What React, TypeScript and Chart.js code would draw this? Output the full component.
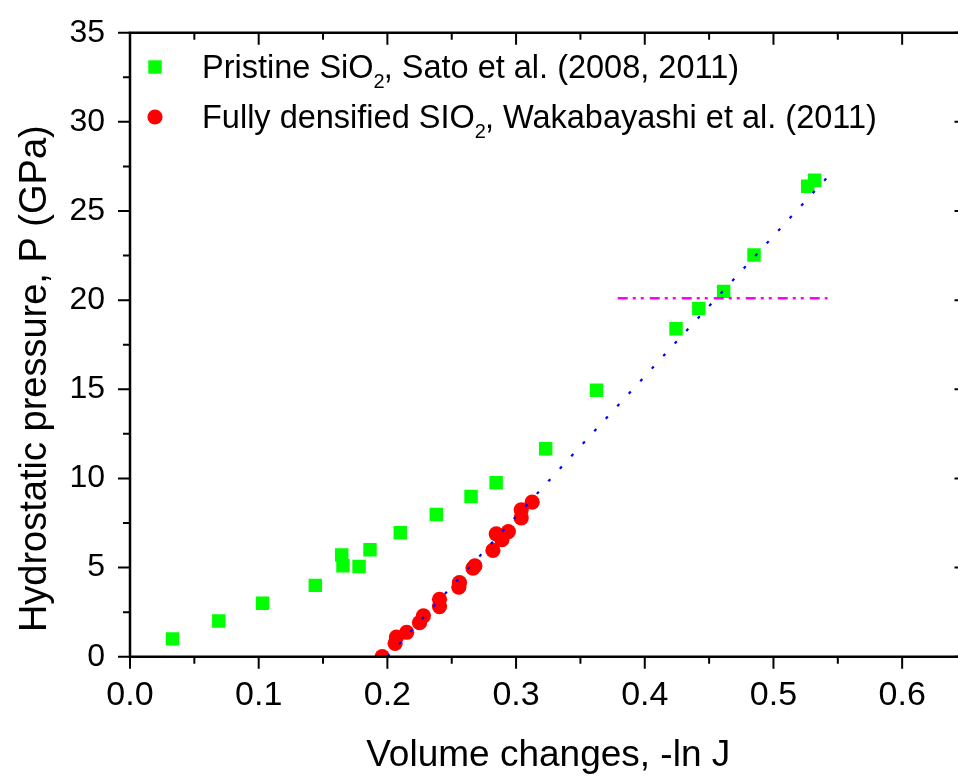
import React, { useEffect, useRef } from "react";
import { Chart, registerables } from "chart.js";

Chart.register(...registerables);

// ---- Data ----
const pristineX = [0.033, 0.069, 0.103, 0.144, 0.1645, 0.1655, 0.178, 0.1865, 0.21, 0.238, 0.265, 0.2845, 0.323, 0.3625, 0.4243, 0.442, 0.4613, 0.4849, 0.5266, 0.532];
const pristineY = [1.0, 2.0, 3.0, 4.0, 5.7, 5.1, 5.06, 6.0, 6.95, 7.98, 8.99, 9.76, 11.66, 14.95, 18.39, 19.53, 20.49, 22.53, 26.39, 26.72];

const densifiedX = [0.196, 0.206, 0.207, 0.215, 0.225, 0.228, 0.2405, 0.2405, 0.2555, 0.256, 0.2665, 0.268, 0.282, 0.2846, 0.289, 0.294, 0.304, 0.304, 0.3125];
const densifiedY = [0.0, 0.75, 1.1, 1.37, 1.91, 2.29, 2.81, 3.22, 3.9, 4.15, 4.97, 5.1, 5.96, 6.89, 6.56, 7.02, 7.78, 8.24, 8.67];

const fitX = [0.2, 0.542];
const fitY = [0, 26.9];

const refLineX = [0.379, 0.542];
const refLineY = [20.1, 20.1];

const xTickValues = [0, 0.1, 0.2, 0.3, 0.4, 0.5, 0.6];
const xMinorValues = [0.05, 0.15, 0.25, 0.35, 0.45, 0.55, 0.65];
const yTickValues = [0, 5, 10, 15, 20, 25, 30, 35];
const yMinorValues = [2.5, 7.5, 12.5, 17.5, 22.5, 27.5, 32.5];

const legendParts = [
  ["Pristine SiO", "2", ", Sato et al. (2008, 2011)"],
  ["Fully densified SIO", "2", ", Wakabayashi et al. (2011)"],
];
const xTitle = "Volume changes, -ln J";
const yTitle = "Hydrostatic pressure, P (GPa)";

const FONT = '"Liberation Sans", Arial, Helvetica, sans-serif';

const toPoints = (xs: number[], ys: number[]) => xs.map((x, i) => ({ x, y: ys[i] }));

const framePlugin = {
  id: "frameTicks",
  afterDraw(chart: any) {
    const { ctx, chartArea: a } = chart;
    const xs = chart.scales.x;
    const ys = chart.scales.y;
    ctx.save();
    ctx.strokeStyle = "#000";
    ctx.lineWidth = 2.5;
    ctx.beginPath();
    ctx.rect(a.left, a.top, a.right - a.left, a.bottom - a.top);
    ctx.stroke();
    ctx.lineWidth = 2;
    ctx.beginPath();
    const seg = (x1: number, y1: number, x2: number, y2: number) => {
      ctx.moveTo(x1, y1);
      ctx.lineTo(x2, y2);
    };
    const MAJ = 12;
    const MIN = 7;
    xTickValues.forEach((v) => {
      const p = xs.getPixelForValue(v);
      seg(p, a.bottom, p, a.bottom + MAJ);
      seg(p, a.top, p, a.top + MAJ);
    });
    xMinorValues.forEach((v) => {
      const p = xs.getPixelForValue(v);
      seg(p, a.bottom, p, a.bottom + MIN);
      seg(p, a.top, p, a.top + MIN);
    });
    yTickValues.forEach((v) => {
      const p = ys.getPixelForValue(v);
      seg(a.left, p, a.left - MAJ, p);
      seg(a.right, p, a.right - MAJ, p);
    });
    yMinorValues.forEach((v) => {
      const p = ys.getPixelForValue(v);
      seg(a.left, p, a.left - MIN, p);
      seg(a.right, p, a.right - MIN, p);
    });
    ctx.stroke();

    // y axis title
    ctx.fillStyle = "#000";
    ctx.font = `38px ${FONT}`;
    ctx.textAlign = "center";
    ctx.textBaseline = "alphabetic";
    ctx.translate(46, (a.top + a.bottom) / 2 + 34);
    ctx.rotate(-Math.PI / 2);
    ctx.fillText(yTitle, 0, 0);
    ctx.restore();

    // legend
    ctx.save();
    const markerX = 155;
    const textX = 202;
    const baselines = [77.5, 127.5];
    const ds = chart.data.datasets;
    const legendSets = [ds[2], ds[3]];
    legendSets.forEach((d: any, i: number) => {
      const b = baselines[i];
      const cy = b - 10.5;
      ctx.fillStyle = d.backgroundColor;
      if (d.pointStyle === "rect") {
        ctx.fillRect(markerX - 6.7, cy - 6.7, 13.4, 13.4);
      } else {
        ctx.beginPath();
        ctx.arc(markerX, cy, 7.6, 0, Math.PI * 2);
        ctx.fill();
      }
      ctx.fillStyle = "#000";
      ctx.textAlign = "left";
      ctx.textBaseline = "alphabetic";
      const [p1, sub, p2] = legendParts[i];
      let x = textX;
      ctx.font = `32.5px ${FONT}`;
      ctx.fillText(p1, x, b);
      x += ctx.measureText(p1).width;
      ctx.font = `20px ${FONT}`;
      ctx.fillText(sub, x, b + 10);
      x += ctx.measureText(sub).width;
      ctx.font = `32.5px ${FONT}`;
      ctx.fillText(p2, x - 1, b);
    });
    ctx.restore();
  },
};

export default function App() {
  const ref = useRef<HTMLCanvasElement | null>(null);
  useEffect(() => {
    if (!ref.current) return;
    const chart = new Chart(ref.current, {
      type: "scatter",
      data: {
        datasets: [
          {
            label: "Linear fit",
            data: toPoints(fitX, fitY),
            showLine: true,
            borderColor: "#0000FF",
            borderWidth: 2.2,
            borderDash: [3, 14],
            pointRadius: 0,
            fill: false,
          },
          {
            label: "Reference 20 GPa",
            data: toPoints(refLineX, refLineY),
            showLine: true,
            borderColor: "#FF00FF",
            borderWidth: 2.5,
            borderDash: [10, 5, 3, 5, 3, 6],
            pointRadius: 0,
            fill: false,
          },
          {
            label: "Pristine SiO2, Sato et al. (2008, 2011)",
            data: toPoints(pristineX, pristineY),
            pointStyle: "rect",
            pointRadius: 9.5,
            backgroundColor: "#00FF00",
            borderColor: "#00FF00",
            borderWidth: 0,
            clip: 0,
          },
          {
            label: "Fully densified SIO2, Wakabayashi et al. (2011)",
            data: toPoints(densifiedX, densifiedY),
            pointStyle: "circle",
            pointRadius: 7.6,
            backgroundColor: "#FF0000",
            borderColor: "#FF0000",
            borderWidth: 0,
            clip: 0,
          },
        ] as any,
      },
      options: {
        responsive: false,
        animation: false,
        devicePixelRatio: 1,
        layout: { padding: { top: 32.7, right: 8.8, left: 0, bottom: 0 } },
        plugins: {
          legend: { display: false },
          tooltip: { enabled: false },
        },
        scales: {
          x: {
            type: "linear",
            min: 0,
            max: 0.65,
            grid: { display: false, drawTicks: false, tickLength: 0 },
            border: { display: false },
            afterBuildTicks: (s: any) => {
              s.ticks = xTickValues.map((value) => ({ value }));
            },
            afterFit: (s: any) => {
              s.height = 776 - 656.7;
            },
            ticks: {
              autoSkip: false,
              maxRotation: 0,
              padding: 19,
              color: "#000",
              font: { family: FONT, size: 34 },
              callback: (v: any) => Number(v).toFixed(1),
            },
            title: {
              display: true,
              text: xTitle,
              color: "#000",
              font: { family: FONT, size: 37, lineHeight: 1 },
              padding: { top: 0, bottom: 2 },
            },
          },
          y: {
            type: "linear",
            min: 0,
            max: 35,
            grid: { display: false, drawTicks: false, tickLength: 0 },
            border: { display: false },
            afterBuildTicks: (s: any) => {
              s.ticks = yTickValues.map((value) => ({ value }));
            },
            afterFit: (s: any) => {
              s.width = 130;
            },
            ticks: {
              padding: 25,
              color: "#000",
              font: { family: FONT, size: 32, lineHeight: 0.1 },
              callback: (v: any) => String(v),
            },
          },
        },
      } as any,
      plugins: [framePlugin],
    });
    return () => chart.destroy();
  }, []);

  return (
    <div
      style={{
        position: "fixed",
        left: 0,
        top: 0,
        width: 958,
        height: 776,
        overflow: "hidden",
        background: "#fff",
      }}
    >
      <canvas ref={ref} width={976} height={776} style={{ display: "block", width: 976, height: 776 }} />
    </div>
  );
}
